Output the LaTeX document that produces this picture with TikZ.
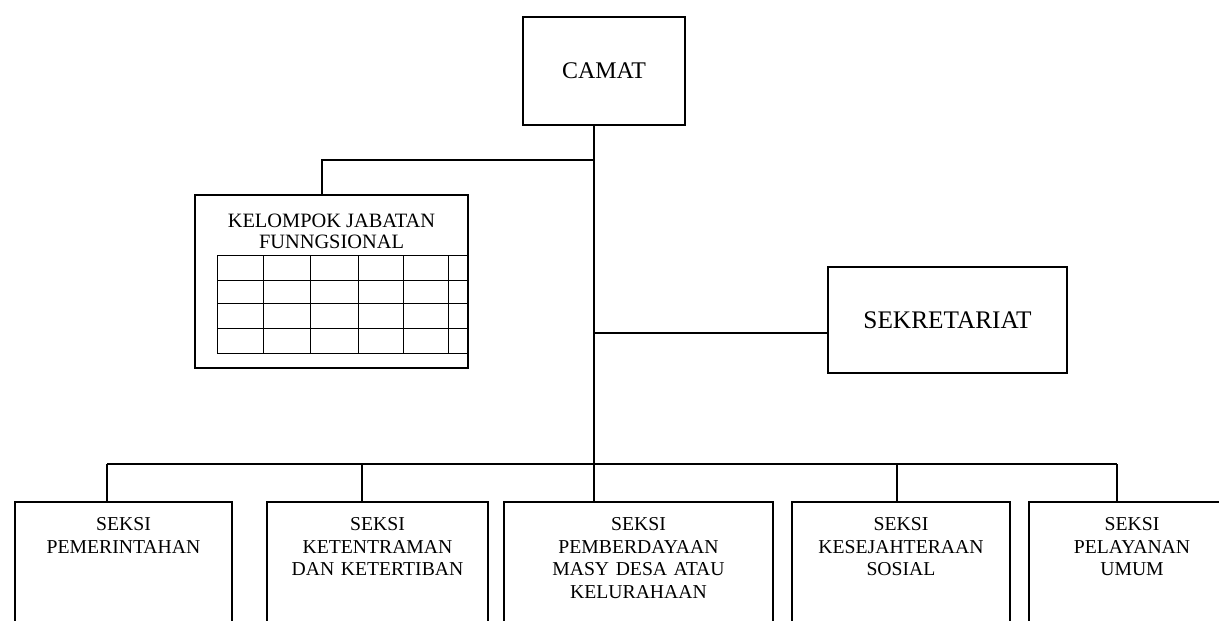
\documentclass[tikz,border=0pt]{standalone}
\usepackage{fontspec}
\setmainfont{Liberation Serif}
\usetikzlibrary{positioning}

\begin{document}
\begin{tikzpicture}[
    x=0.025cm, y=-0.025cm,
    box/.style={rectangle, draw, line width=1.1pt, align=center, inner sep=0pt},
    pimpinan/.style={box, minimum width=4.05cm, minimum height=2.7cm, font=\fontsize{17}{20}\selectfont},
    seksi/.style={box, anchor=north, inner ysep=0.4cm, text depth=4cm, font=\fontsize{14}{16}\selectfont},
    judul/.style={inner sep=0pt, align=center, font=\fontsize{14.5}{14.5}\selectfont},
    line/.style={line width=0.9pt},
    gridline/.style={line width=0.6pt}
  ]
  \useasboundingbox (0,0) rectangle (1219,620);
  \clip (0,0) rectangle (1219,620);

  % Kotak
  \node (camat) [pimpinan] at (604,71) {CAMAT};
  \node (sekretariat) [pimpinan, minimum width=5.975cm, minimum height=2.65cm, font=\fontsize{18}{20}\selectfont] at (947.5,320) {SEKRETARIAT};
  \node (kelompok) [box, minimum width=6.825cm, minimum height=4.325cm] at (331.5,281.5) {};
  \node (kjudul) [judul, below=0.5cm of kelompok.north] {KELOMPOK JABATAN\\FUNNGSIONAL};

  \node (seksi1) [seksi, text width=5.425cm] at (123.5,501) {SEKSI\\PEMERINTAHAN};
  \node (seksi2) [seksi, text width=5.525cm] at (377.5,501) {SEKSI\\KETENTRAMAN\\DAN KETERTIBAN};
  \node (seksi3) [seksi, text width=6.725cm] at (638.5,501) {SEKSI\\PEMBERDAYAAN\\MASY DESA ATAU\\KELURAHAAN};
  \node (seksi4) [seksi, text width=5.45cm] at (901,501) {SEKSI\\KESEJAHTERAAN\\SOSIAL};
  \node (seksi5) [seksi, text width=5.15cm] at (1132,501) {SEKSI\\PELAYANAN\\UMUM};

  % Tabel
  \foreach \gx in {217,263,310,358,403,448}
    \draw[gridline] (\gx,255) -- (\gx,353);
  \foreach \gy in {255,280,303,328,353}
    \draw[gridline] (217,\gy) -- (468,\gy);

  % Garis
  \coordinate (d1) at (107,464);
  \coordinate (d2) at (362,464);
  \coordinate (d3) at (594,464);
  \coordinate (d4) at (897,464);
  \coordinate (d5) at (1117,464);
  \coordinate (cabang) at (322,160);
  \coordinate (sline) at ([yshift=-0.325cm]sekretariat.west);

  \draw[line] (camat.south -| d3) -- (seksi3.north -| d3);
  \draw[line] (cabang -| d3) -- (cabang) -- (cabang |- kelompok.north);
  \draw[line] (sline -| d3) -- (sline);
  \draw[line] (d1) -- (d5);
  \foreach \i in {1,2,4,5}
    \draw[line] (d\i) -- (d\i |- seksi\i.north);

\end{tikzpicture}
\end{document}
